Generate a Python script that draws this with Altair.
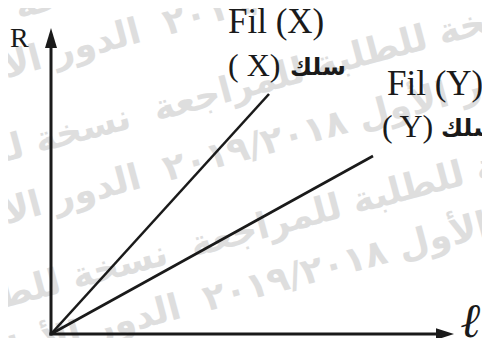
import altair as alt
import pandas as pd

# ---- data ----
wires = ["X", "Y"]
wire_l_end = [5.45, 8.05]   # length ℓ at end of each wire's line
wire_R_end = [6.0, 4.45]    # resistance R at end of each wire's line

# ---- scales ----
W, H = 474, 330
UNIT = 40.0
L_MIN = -1.075
R_MAX = 8.15
xs = alt.Scale(domain=[L_MIN, L_MIN + W / UNIT], nice=False, zero=False)
ys = alt.Scale(domain=[R_MAX - H / UNIT, R_MAX], nice=False, zero=False)


def enc_xy():
    return dict(x=alt.X("l:Q", scale=xs, axis=None), y=alt.Y("R:Q", scale=ys, axis=None))


# lines from the origin
rows = []
for w, le, re_ in zip(wires, wire_l_end, wire_R_end):
    rows.append({"wire": w, "l": 0.0, "R": 0.0})
    rows.append({"wire": w, "l": le, "R": re_})
lines_df = pd.DataFrame(rows)

lines = alt.Chart(lines_df).mark_line(color="#1a1a1a", strokeWidth=2.6).encode(
    detail="wire:N", **enc_xy()
)

# axes
axes_df = pd.DataFrame({
    "l": [0.0, -0.04],
    "R": [-0.04, 0.0],
    "l2": [0.0, 9.7],
    "R2": [7.2, 0.0],
})
axes = alt.Chart(axes_df).mark_rule(color="#1a1a1a", strokeWidth=3).encode(
    x2="l2:Q", y2="R2:Q", **enc_xy()
)

up_arrow = alt.Chart(pd.DataFrame({"l": [0.0], "R": [7.4]})).mark_point(
    shape="M0,-1L0.6,1L-0.6,1Z", filled=True, size=400, color="#1a1a1a", opacity=1, strokeWidth=0
).encode(**enc_xy())
right_arrow = alt.Chart(pd.DataFrame({"l": [9.85], "R": [0.0]})).mark_point(
    shape="M1,0L-1,0.65L-1,-0.65Z", filled=True, size=324, color="#1a1a1a", opacity=1, strokeWidth=0
).encode(**enc_xy())

# watermark (faint repeated Arabic text, rising 15 degrees)
wm_phrase1 = "نسخة للطلبة للمراجعة"
wm_phrase2 = "الدور الأول ٢٠١٩/٢٠١٨"
gap = "      "
wm_anchor_l = [1.475, 1.975, 2.9, 2.225, 2.225, 3.225]
wm_anchor_R = [8.775, 5.425, 2.025, 7.575, 3.925, 0.675]
wm_phr = [wm_phrase1, wm_phrase1, wm_phrase1, wm_phrase2, wm_phrase2, wm_phrase2]
left_rows, right_rows = [], []
for a_l, a_r, p in zip(wm_anchor_l, wm_anchor_R, wm_phr):
    left_rows.append({"t": gap.join([p] * 3), "l": a_l, "R": a_r})
    right_rows.append({"t": gap.join([p] * 3), "l": a_l + 0.6, "R": a_r + 0.16})
wm_style = dict(angle=345, font="DejaVu Sans", fontWeight="bold", fontSize=36, color="#dedede",
                baseline="middle")
wm_left = alt.Chart(pd.DataFrame(left_rows)).mark_text(align="right", **wm_style).encode(
    text="t:N", **enc_xy())
wm_right = alt.Chart(pd.DataFrame(right_rows)).mark_text(align="left", **wm_style).encode(
    text="t:N", **enc_xy())

# labels
serif = "Liberation Serif"
big_df = pd.DataFrame({"t": ["Fil (X)", "Fil (Y)"], "l": [4.425, 8.4], "R": [7.525, 5.975]})
big = alt.Chart(big_df).mark_text(
    font=serif, fontSize=35, color="#1a1a1a", align="left", baseline="alphabetic"
).encode(text="t:N", **enc_xy())

paren_df = pd.DataFrame({"t": ["( X)", "( Y)"], "l": [4.425, 8.275], "R": [6.45, 4.925]})
paren = alt.Chart(paren_df).mark_text(
    font=serif, fontSize=32, color="#1a1a1a", align="left", baseline="alphabetic"
).encode(text="t:N", **enc_xy())

ar_df = pd.DataFrame({"t": ["سلك", "سلك"], "l": [5.975, 9.75], "R": [6.475, 4.95]})
ar = alt.Chart(ar_df).mark_text(
    font="DejaVu Sans", fontWeight="bold", fontSize=24, color="#1a1a1a", align="left", baseline="alphabetic"
).encode(text="t:N", **enc_xy())

r_lab = alt.Chart(pd.DataFrame({"t": ["R"], "l": [-1.025], "R": [7.175]})).mark_text(
    font=serif, fontSize=28, color="#1a1a1a", align="left", baseline="alphabetic"
).encode(text="t:N", **enc_xy())

l_lab = alt.Chart(pd.DataFrame({"t": ["ℓ"], "l": [10.25], "R": [-0.075]})).mark_text(
    font=serif, fontSize=48, fontWeight="bold", fontStyle="italic", color="#1a1a1a",
    align="left", baseline="alphabetic"
).encode(text="t:N", **enc_xy())

chart = alt.layer(
    wm_left, wm_right, lines, axes, up_arrow, right_arrow, big, paren, ar, r_lab, l_lab
).properties(
    width=W, height=H, padding=0, autosize=alt.AutoSizeParams(type="none"),
    background="white",
).configure_view(strokeWidth=0)

chart.save("out.html", embed_options={"renderer": "svg", "actions": False})
